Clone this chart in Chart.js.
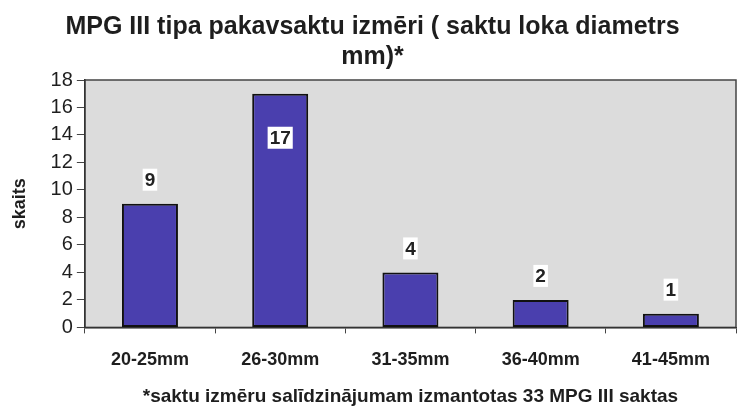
<!DOCTYPE html>
<html>
<head>
<meta charset="utf-8">
<script src="https://cdn.jsdelivr.net/npm/chart.js@4/dist/chart.umd.min.js"></script>
<style>
  html, body { margin: 0; padding: 0; background: #fff; }
  #wrap { width: 738px; height: 406px; }
</style>
</head>
<body>
<div id="wrap"><canvas id="chart" width="738" height="406"></canvas></div>
<script>
// data
const categories = ['20-25mm', '26-30mm', '31-35mm', '36-40mm', '41-45mm'];
const counts = [9, 17, 4, 2, 1];
const yTicks = [0, 2, 4, 6, 8, 10, 12, 14, 16, 18];

const textFont = '"Liberation Sans", Arial, sans-serif';

// grey plot background with a thin frame
const plotBg = {
  id: 'plotBg',
  beforeDraw(chart) {
    const { ctx, chartArea: a } = chart;
    ctx.save();
    ctx.fillStyle = '#dcdcdc';
    ctx.fillRect(a.left, a.top, a.right - a.left, a.bottom - a.top);
    ctx.strokeStyle = '#444';
    ctx.lineWidth = 1.5;
    ctx.strokeRect(a.left, a.top, a.right - a.left, a.bottom - a.top);
    ctx.restore();
  }
};

// value labels in small white boxes; the tallest one sits inside its bar
const valueLabels = {
  id: 'valueLabels',
  afterDatasetsDraw(chart) {
    const { ctx } = chart;
    const meta = chart.getDatasetMeta(0);
    const yScale = chart.scales.y;
    ctx.save();
    ctx.font = 'bold 19px ' + textFont;
    ctx.textAlign = 'center';
    ctx.textBaseline = 'middle';
    meta.data.forEach((bar, i) => {
      const v = counts[i];
      const inside = v > yScale.max - 3;
      const y = inside ? bar.y + 44 : bar.y - 24;
      const txt = String(v);
      const w = ctx.measureText(txt).width + 4;
      ctx.fillStyle = '#fff';
      ctx.fillRect(bar.x - w / 2, y - 11, w, 22);
      ctx.fillStyle = '#222';
      ctx.fillText(txt, bar.x, y + 1);
    });
    ctx.restore();
  }
};

new Chart(document.getElementById('chart'), {
  type: 'bar',
  data: {
    labels: categories,
    datasets: [{
      data: counts,
      backgroundColor: '#4a3fae',
      borderColor: '#111',
      borderWidth: 2,
      borderSkipped: false,
      categoryPercentage: 1,
      barPercentage: 0.43
    }]
  },
  options: {
    responsive: false,
    animation: false,
    layout: { padding: { top: 0, right: 2, left: 9, bottom: 0 } },
    plugins: {
      legend: { display: false },
      tooltip: { enabled: false },
      title: {
        display: true,
        text: ['MPG III tipa pakavsaktu izmēri ( saktu loka diametrs', 'mm)*'],
        color: '#1e1e1e',
        font: { family: textFont, size: 25, weight: 'bold', lineHeight: 1.2 },
        padding: { top: 12, bottom: 8 }
      }
    },
    scales: {
      x: {
        grid: { offset: true, drawOnChartArea: false, tickLength: 6, color: '#444' },
        border: { color: '#333', width: 1.5 },
        ticks: {
          color: '#1e1e1e',
          font: { family: textFont, size: 18, weight: 'bold' },
          padding: 16,
          autoSkip: false,
          maxRotation: 0
        },
        title: {
          display: true,
          text: '*saktu izmēru salīdzinājumam izmantotas 33 MPG III saktas',
          color: '#1e1e1e',
          font: { family: textFont, size: 19, weight: 'bold', lineHeight: 1.0 },
          padding: { top: 0, bottom: 0 }
        }
      },
      y: {
        min: 0,
        max: 18,
        afterBuildTicks(scale) { scale.ticks = yTicks.map(v => ({ value: v })); },
        grid: { drawOnChartArea: false, tickLength: 8, color: '#444' },
        border: { color: '#333', width: 1.5 },
        ticks: {
          color: '#1e1e1e',
          font: { family: textFont, size: 20 },
          padding: 4,
          autoSkip: false
        },
        title: {
          display: true,
          text: 'skaits',
          color: '#1e1e1e',
          font: { family: textFont, size: 18, weight: 'bold' },
          padding: { top: 0, bottom: 16 }
        }
      }
    }
  },
  plugins: [plotBg, valueLabels]
});
</script>
</body>
</html>
